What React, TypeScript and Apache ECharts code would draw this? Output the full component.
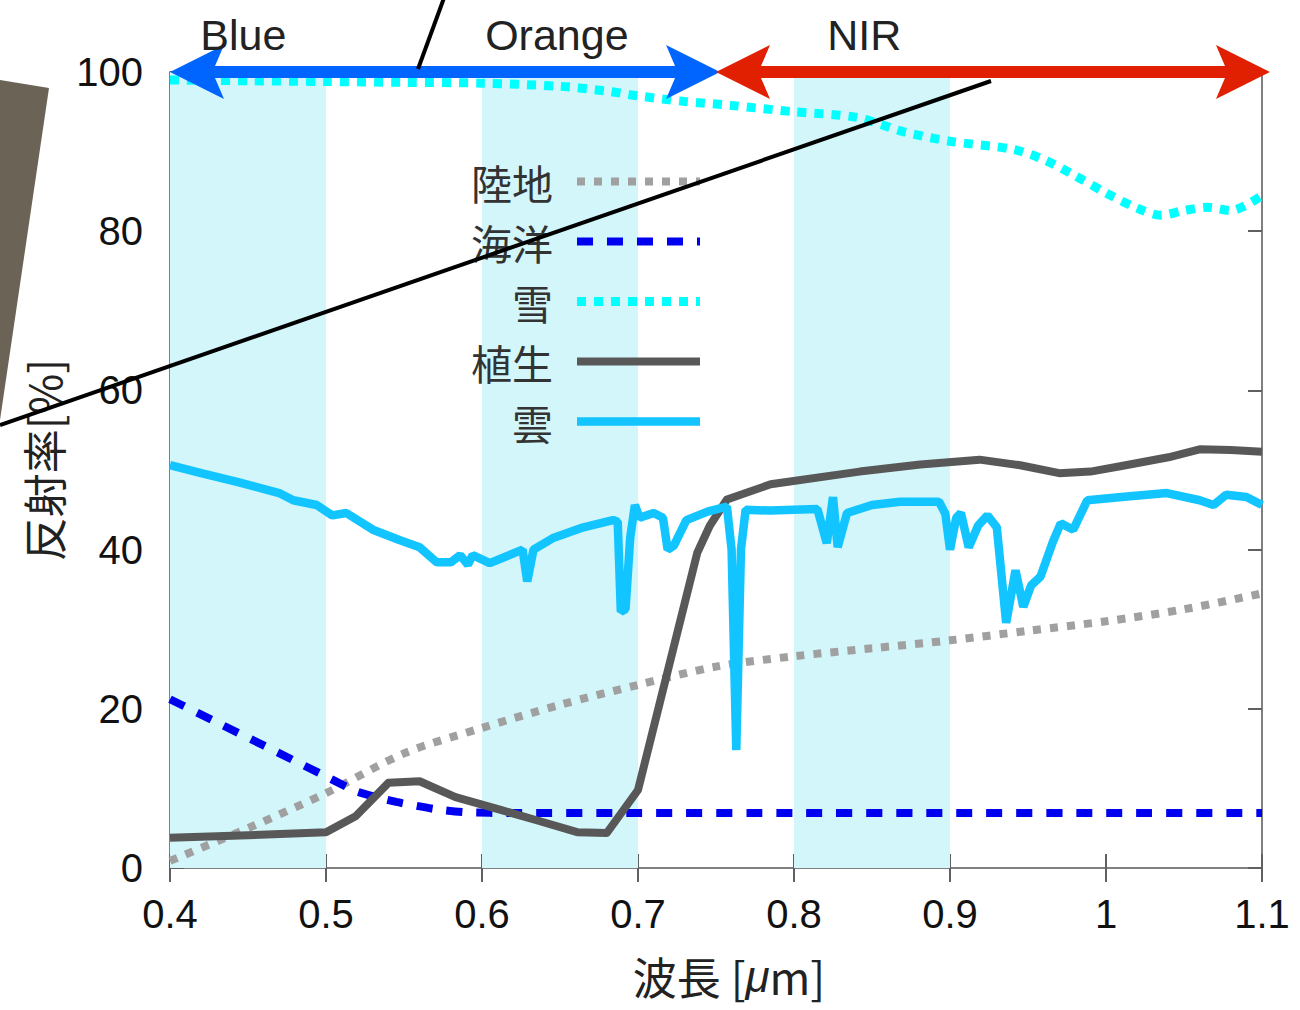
import React, { useEffect, useRef } from "react";
import * as echarts from "echarts";

const FONT = "'Liberation Sans', Arial, 'Noto Sans CJK JP', sans-serif";
const CJK = "'Noto Sans CJK JP', 'Liberation Sans', sans-serif";

// axis ranges
const xMin = 0.4;
const xMax = 1.1;
const xStep = 0.1;
const yMin = 0;
const yMax = 100;
const yStep = 20;

// shaded bands
const bandRanges = [
  [0.4, 0.5],
  [0.6, 0.7],
  [0.8, 0.9],
];

// band annotations (top)
const bandNames = ["Blue", "Orange", "NIR"];
const bandLabelX = [0.447, 0.648, 0.845];
const bandLabelY = 104.6;
const blueArrow = [0.4, 0.7526];
const nirArrow = [0.75, 1.1051];
const arrowLevel = 100;

const seriesNames = ["陸地", "海洋", "雪", "植生", "雲"];

// 陸地 (land)
const landWl = [0.4, 0.45, 0.5, 0.55, 0.6, 0.65, 0.7, 0.75, 0.8, 0.85, 0.9, 0.95, 1.0, 1.05, 1.1];
const landR = [0.9, 5.0, 9.4, 14.4, 17.6, 20.5, 23.0, 25.3, 26.6, 27.6, 28.6, 29.8, 31.0, 32.5, 34.5];

// 海洋 (ocean)
const oceanWl = [0.4, 0.43, 0.46, 0.5, 0.52, 0.545, 0.57, 0.59, 0.62, 0.7, 0.8, 0.9, 1.0, 1.1];
const oceanR = [21.2, 18.3, 15.4, 11.5, 9.6, 8.3, 7.4, 7.0, 6.9, 6.9, 6.9, 6.9, 6.9, 6.9];

// 雪 (snow)
const snowWl = [0.4, 0.45, 0.5, 0.55, 0.6, 0.65, 0.68, 0.7, 0.73, 0.76, 0.8, 0.84, 0.87, 0.9, 0.94, 0.96, 0.98, 1.0, 1.02, 1.035, 1.05, 1.065, 1.08, 1.1];
const snowR = [99.0, 98.9, 98.8, 98.7, 98.6, 98.2, 97.6, 97.0, 96.3, 95.8, 95.0, 94.3, 92.5, 91.3, 90.3, 89.0, 87.0, 84.8, 82.9, 82.0, 82.6, 83.0, 82.6, 84.5];

// 植生 (vegetation)
const vegWl = [0.4, 0.45, 0.5, 0.519, 0.54, 0.56, 0.583, 0.612, 0.635, 0.661, 0.68, 0.7, 0.738, 0.746, 0.757, 0.785, 0.842, 0.881, 0.919, 0.945, 0.97, 0.99, 1.01, 1.04, 1.06, 1.08, 1.1];
const vegR = [3.8, 4.1, 4.5, 6.5, 10.7, 10.9, 8.9, 7.3, 6.0, 4.5, 4.4, 9.8, 39.6, 43.0, 46.3, 48.2, 49.8, 50.7, 51.3, 50.6, 49.6, 49.8, 50.5, 51.6, 52.6, 52.5, 52.3];

// 雲 (cloud)
const cloudWl = [
  0.4, 0.42, 0.443, 0.47, 0.479, 0.494, 0.504, 0.513, 0.53, 0.547, 0.56, 0.571, 0.58, 0.586, 0.591, 0.594,
  0.605, 0.626, 0.629, 0.633, 0.646, 0.665, 0.684, 0.687, 0.689, 0.692, 0.695, 0.698, 0.701, 0.71, 0.716,
  0.719, 0.723, 0.731, 0.745, 0.757, 0.76, 0.763, 0.766, 0.769, 0.785, 0.8, 0.815, 0.821, 0.825, 0.828,
  0.834, 0.85, 0.868, 0.881, 0.893, 0.897, 0.9, 0.904, 0.907, 0.912, 0.918, 0.924, 0.93, 0.936, 0.942,
  0.947, 0.952, 0.958, 0.966, 0.971, 0.979, 0.988, 1.01, 1.039, 1.06, 1.069, 1.077, 1.09, 1.1,
];
const cloudR = [
  50.6, 49.6, 48.5, 47.1, 46.2, 45.6, 44.3, 44.6, 42.5, 41.2, 40.3, 38.4, 38.4, 39.3, 38.1, 39.3,
  38.3, 40.0, 36.0, 40.0, 41.5, 42.8, 43.7, 43.5, 32.2, 32.5, 41.5, 45.6, 44.0, 44.6, 44.0,
  40.0, 40.5, 43.7, 44.8, 45.4, 40.0, 14.8, 40.0, 45.0, 44.9, 45.0, 45.1, 40.8, 46.6, 40.3,
  44.6, 45.6, 46.0, 46.0, 46.0, 44.5, 40.0, 44.0, 44.6, 40.3, 43.0, 44.3, 42.8, 30.8, 37.4,
  32.8, 35.5, 36.6, 41.0, 43.3, 42.5, 46.2, 46.6, 47.1, 46.2, 45.6, 46.9, 46.6, 45.6,
];

const zip = (xs: number[], ys: number[]) => xs.map((x, i) => [x, ys[i]]);

function doubleArrow(x1: number, x2: number, y: number, color: string) {
  const H = 54, W = 27, N = 45, S = 6;
  return {
    type: "polygon",
    z: 100,
    shape: {
      points: [
        [x1, y], [x1 + H, y - W], [x1 + N, y - S], [x2 - N, y - S], [x2 - H, y - W],
        [x2, y], [x2 - H, y + W], [x2 - N, y + S], [x1 + N, y + S], [x1 + H, y + W],
      ],
    },
    style: { fill: color },
  };
}

export default function App() {
  const ref = useRef<HTMLDivElement>(null);
  useEffect(() => {
    const chart = echarts.init(ref.current!, null, { renderer: "svg" });
    const axisLine = { show: true, lineStyle: { color: "#808080", width: 2 } };
    const axisTick = { show: true, inside: true, length: 14, lineStyle: { color: "#606060", width: 2 } };
    const xBase = { type: "value", min: xMin, max: xMax, interval: xStep, splitLine: { show: false }, axisLine, axisTick };
    const yBase = { type: "value", min: yMin, max: yMax, interval: yStep, splitLine: { show: false }, axisLine, axisTick };

    const option: any = {
      animation: false,
      backgroundColor: "#ffffff",
      grid: { left: 170, top: 72, width: 1092, height: 796, show: false },
      legend: {
        data: seriesNames,
        orient: "vertical",
        align: "right",
        left: 471,
        top: 161,
        padding: 0,
        itemWidth: 123,
        itemHeight: 14,
        itemGap: 19,
        itemStyle: { opacity: 0 },
        lineStyle: { width: "inherit", type: "inherit", cap: "butt" },
        textStyle: { fontSize: 41, lineHeight: 41, color: "#333", fontFamily: CJK, padding: [0, 19, 0, 0] },
      },
      xAxis: [
        {
          ...xBase,
          position: "bottom",
          axisLabel: { fontSize: 40, color: "#111", margin: 26, fontFamily: FONT },
          name: "波長 [{i|μ}m]",
          nameLocation: "middle",
          nameGap: 86,
          nameTextStyle: {
            fontSize: 44,
            color: "#222",
            fontFamily: CJK,
            padding: [0, 0, 0, 26],
            rich: { i: { fontSize: 44, fontStyle: "italic", fontFamily: FONT, color: "#222" } },
          },
        },
        { ...xBase, position: "top", axisLabel: { show: false } },
      ],
      yAxis: [
        {
          ...yBase,
          position: "left",
          axisLabel: { fontSize: 40, color: "#111", margin: 27, fontFamily: FONT },
          name: "反射率[%]",
          nameLocation: "middle",
          nameGap: 104,
          nameTextStyle: { fontSize: 44, color: "#222", fontFamily: CJK, padding: [0, 0, 0, 20] },
        },
        { ...yBase, position: "right", axisLabel: { show: false } },
      ],
      series: [
        {
          name: "bands",
          type: "line",
          z: 0,
          data: [],
          symbol: "none",
          markArea: {
            silent: true,
            itemStyle: { color: "#d2f6fa" },
            data: bandRanges.map(([a, b]) => [{ xAxis: a }, { xAxis: b }]),
          },
        },
        {
          name: seriesNames[0], type: "line", data: zip(landWl, landR), symbol: "none", smooth: 0.3,
          lineStyle: { color: "#a0a0a0", width: 8, type: [8, 9] }, itemStyle: { color: "#a0a0a0" },
        },
        {
          name: seriesNames[1], type: "line", data: zip(oceanWl, oceanR), symbol: "none", smooth: 0.2,
          lineStyle: { color: "#0000f0", width: 8, type: [16, 14] }, itemStyle: { color: "#0000f0" },
        },
        {
          name: seriesNames[2], type: "line", data: zip(snowWl, snowR), symbol: "none", smooth: 0.3,
          lineStyle: { color: "#00ffff", width: 9, type: [9, 8] }, itemStyle: { color: "#00ffff" },
        },
        {
          name: seriesNames[3], type: "line", data: zip(vegWl, vegR), symbol: "none",
          lineStyle: { color: "#585858", width: 8, join: "round" }, itemStyle: { color: "#585858" },
        },
        {
          name: seriesNames[4], type: "line", data: zip(cloudWl, cloudR), symbol: "none",
          lineStyle: { color: "#12c4ff", width: 8.5 }, itemStyle: { color: "#12c4ff" },
        },
      ],
    };
    chart.setOption(option);

    const p = (x: number, y: number) => chart.convertToPixel({ gridIndex: 0 } as any, [x, y]) as number[];
    const b1 = p(blueArrow[0], arrowLevel);
    const b2 = p(blueArrow[1], arrowLevel);
    const r1 = p(nirArrow[0], arrowLevel);
    const r2 = p(nirArrow[1], arrowLevel);

    const graphics: any[] = [
      {
        type: "polygon",
        z: 90,
        shape: { points: [[0, 80], [49, 88], [0, 420]] },
        style: { fill: "#6b6456" },
      },
      doubleArrow(b1[0], b2[0], b1[1], "#0064ff"),
      doubleArrow(r1[0], r2[0], r1[1], "#e02000"),
      ...bandNames.map((t, i) => {
        const q = p(bandLabelX[i], bandLabelY);
        return {
          type: "text",
          z: 100,
          x: q[0],
          y: q[1],
          style: { text: t, fontSize: 43, fontFamily: FONT, fill: "#222", align: "center", verticalAlign: "middle" },
        };
      }),
      { type: "line", z: 110, shape: { x1: 0, y1: 425, x2: 991, y2: 81 }, style: { stroke: "#000", lineWidth: 4 } },
      { type: "line", z: 110, shape: { x1: 418, y1: 69, x2: 444, y2: -2 }, style: { stroke: "#000", lineWidth: 4 } },
    ];
    chart.setOption({ graphic: graphics });

    return () => chart.dispose();
  }, []);
  return <div ref={ref} style={{ position: "absolute", left: 0, top: 0, width: 1300, height: 1010 }} />;
}
